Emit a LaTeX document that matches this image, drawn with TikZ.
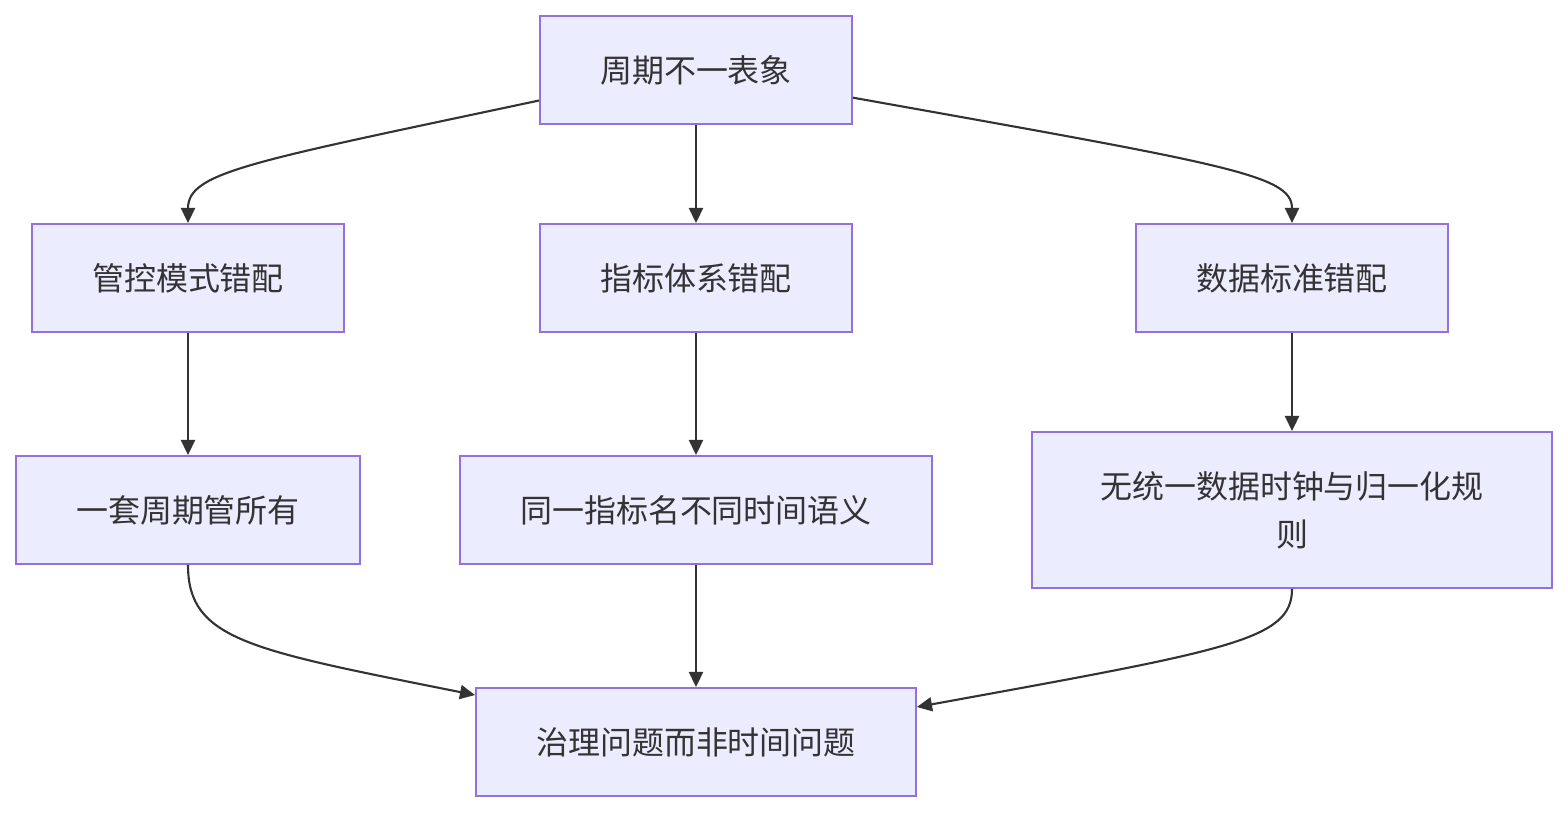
\documentclass[tikz,border=0pt]{standalone}
\usepackage{fontspec}
\setmainfont{Noto Sans CJK SC}
\usepackage{tikz}
\usetikzlibrary{arrows.meta}

\definecolor{boxfill}{HTML}{ECECFF}
\definecolor{boxline}{HTML}{9370DB}
\definecolor{ink}{HTML}{333333}

\begin{document}
\begin{tikzpicture}[x=0.02cm, y=-0.02cm,
  box/.style={draw=boxline, fill=boxfill, line width=1.1pt, text=ink,
    font=\fontsize{18.2}{27.3}\selectfont, align=center, inner sep=0pt,
    minimum height=2.16cm},
  arr/.style={draw=ink, line width=1.2pt, -{Triangle[length=8.6pt,width=8pt]}}]

\useasboundingbox (0,0) rectangle (1568,812);

\node[box, minimum width=6.24cm] (top) at (696,70) {周期不一表象};

\node[box, minimum width=6.24cm] (ctrl) at (188,278) {管控模式错配};
\node[box, minimum width=6.24cm] (metric) at (696,278) {指标体系错配};
\node[box, minimum width=6.24cm] (data) at (1292,278) {数据标准错配};

\node[box, minimum width=6.88cm] (onecycle) at (188,510) {一套周期管所有};
\node[box, minimum width=9.44cm] (samename) at (696,510) {同一指标名不同时间语义};
\node[box, minimum width=10.4cm, minimum height=3.12cm] (noclock) at (1292,510) {无统一数据时钟与归一化规\\则};

\node[box, minimum width=8.8cm] (gov) at (696,742) {治理问题而非时间问题};

% top level
\draw[arr] (top.191.6) .. controls (250,162) and (188,172) .. (ctrl.north);
\draw[arr] (top.south) -- (metric.north);
\draw[arr] (top.350.2) .. controls (1230,165) and (1292,175) .. (data.north);

% middle
\draw[arr] (ctrl.south) -- (onecycle.north);
\draw[arr] (metric.south) -- (samename.north);
\draw[arr] (data.south) -- (noclock.north);

% bottom
\draw[arr] (onecycle.south) .. controls (188,640) and (250,650) .. (gov.168.4);
\draw[arr] (samename.south) -- (gov.north);
\draw[arr] (noclock.south) .. controls (1292,640) and (1230,650) .. (gov.9.8);

\end{tikzpicture}
\end{document}
